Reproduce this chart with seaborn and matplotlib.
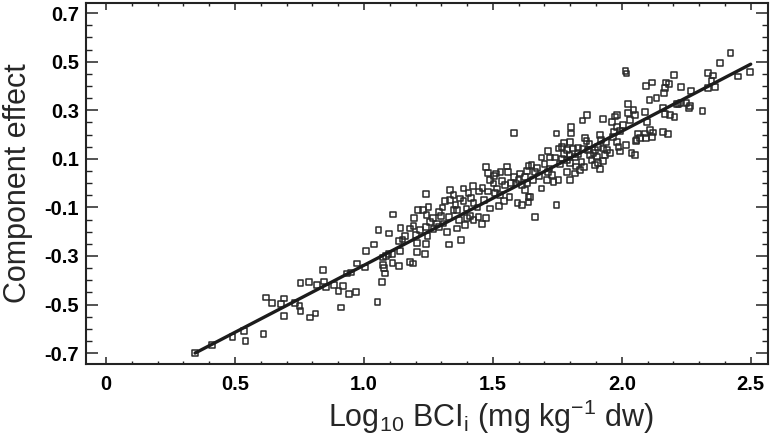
import matplotlib
matplotlib.use("Agg")
import matplotlib.pyplot as plt
import seaborn as sns
from matplotlib.ticker import MultipleLocator

# ── Data ──────────────────────────────────────────────────────────────────────
log_bci = [
    0.345, 0.412, 0.490, 0.534, 0.541, 0.610, 0.620, 0.642, 0.677, 0.690,
    0.690, 0.733, 0.750, 0.754, 0.754, 0.787, 0.790,
    0.812, 0.817, 0.840, 0.845, 0.852, 0.884, 0.901, 0.918, 0.910, 0.933,
    0.949, 0.943, 0.969, 0.974, 1.005, 1.008, 1.052, 1.069, 1.073, 1.075,
    1.078, 1.082, 1.086, 1.095, 1.111, 1.111, 1.137, 1.140, 1.179, 1.191,
    1.205, 1.237,
    1.039, 1.056, 1.098, 1.114, 1.136, 1.142, 1.158, 1.150, 1.179, 1.192,
    1.194, 1.211, 1.202, 1.205,
    1.583, 1.241, 1.331, 1.377, 1.218, 1.246, 1.241, 1.228, 1.250, 1.241,
    1.243, 1.256, 1.269, 1.282, 1.292, 1.308, 1.321, 1.298, 1.305, 1.314,
    1.334, 1.347, 1.334, 1.347, 1.331, 1.360, 1.373, 1.386, 1.386, 1.405,
    1.422, 1.425, 1.398, 1.370, 1.360, 1.392, 1.411, 1.401, 1.425, 1.444,
    1.457, 1.473, 1.447, 1.465, 1.482, 1.489, 1.473, 1.482, 1.489, 1.504,
    1.512, 1.530, 1.502, 1.517, 1.508, 1.528, 1.525, 1.554, 1.558, 1.547,
    1.564, 1.543, 1.582, 1.590, 1.599, 1.612, 1.595, 1.612, 1.625, 1.625,
    1.631, 1.638, 1.638,
    2.014, 2.018, 1.663, 1.747, 1.638, 1.644, 1.631, 1.650, 1.670, 1.663,
    1.657, 1.689, 1.709, 1.728, 1.735, 1.754, 1.715, 1.689, 1.715, 1.722,
    1.741, 1.754, 1.767, 1.747, 1.777, 1.800, 1.802, 1.802, 1.787, 1.797,
    1.812, 1.818, 1.831, 1.787, 1.767, 1.800, 1.822, 1.787, 1.800, 1.818,
    1.844, 1.853, 1.838, 1.857, 1.863, 1.848, 1.866, 1.870, 1.877, 1.883,
    1.890, 1.896, 1.909, 1.916, 1.896, 1.916, 1.918, 1.909, 1.928, 1.934,
    1.943, 1.954, 1.928, 1.928, 1.961, 1.974, 1.980, 1.965, 1.980, 1.987,
    1.993, 1.980, 1.993, 2.006, 2.025, 2.025, 2.045, 2.032, 2.051, 2.016,
    2.038, 2.051, 2.057, 2.064,
    2.422, 2.381, 2.452, 2.497, 2.335, 2.355, 2.348, 2.361, 2.335, 2.313,
    2.267, 2.229, 2.202, 2.184, 2.171, 2.167, 2.164, 2.135, 2.107, 2.094,
    2.116, 2.090, 2.161, 2.167, 2.187, 2.204, 2.213, 2.220, 2.228, 2.251,
    2.264, 2.262, 2.099, 2.090, 2.110, 2.122, 2.116, 2.094, 2.071, 2.055,
    2.161, 2.180,
    # extra points in the dense middle of the cloud
    1.270, 1.290, 1.355, 1.415, 1.440, 1.460, 1.535, 1.570, 1.605, 1.680,
    1.700, 1.720, 1.760, 1.775, 1.830, 1.850, 1.875, 1.905, 1.940, 1.970,
]
effect = [
    -0.700, -0.666, -0.634, -0.608, -0.650, -0.622, -0.471, -0.494, -0.498, -0.475,
    -0.548, -0.493, -0.507, -0.526, -0.412, -0.407, -0.553,
    -0.537, -0.419, -0.359, -0.405, -0.430, -0.419, -0.444, -0.424, -0.512, -0.372,
    -0.368, -0.457, -0.449, -0.331, -0.347, -0.279, -0.490, -0.408, -0.336, -0.306,
    -0.351, -0.372, -0.300, -0.292, -0.328, -0.292, -0.342, -0.281, -0.324, -0.331,
    -0.283, -0.292,
    -0.253, -0.194, -0.207, -0.129, -0.239, -0.184, -0.217, -0.232, -0.187, -0.176,
    -0.143, -0.111, -0.214, -0.248,
    0.208, -0.252, -0.253, -0.235, -0.194, -0.218, -0.182, -0.111, -0.097, -0.045,
    -0.132, -0.159, -0.145, -0.166, -0.182, -0.166, -0.200, -0.136, -0.100, -0.073,
    -0.029, -0.049, -0.070, -0.111, -0.139, -0.111, -0.063, -0.073, -0.022, -0.042,
    -0.012, -0.083, -0.104, -0.152, -0.187, -0.173, -0.136, -0.145, -0.152, -0.139,
    -0.169, -0.145, -0.035, -0.070, -0.035, -0.104, 0.065, 0.043, 0.013, 0.029,
    0.040, 0.046, -0.001, -0.022, -0.042, -0.049, -0.094, 0.068, 0.047, -0.008,
    -0.056, -0.073, 0.026, -0.001, 0.013, -0.008, -0.083, -0.090, -0.029, 0.026,
    0.051, 0.070, -0.056,
    0.462, 0.452, -0.139, -0.090, -0.077, -0.056, -0.001, 0.075, 0.061, 0.047,
    0.013, -0.022, 0.013, 0.033, 0.006, 0.013, 0.047, 0.106, 0.133, 0.106,
    0.106, 0.143, 0.150, 0.205, 0.166, 0.170, 0.205, 0.230, 0.137, 0.116,
    0.143, 0.109, 0.147, 0.095, 0.102, 0.082, 0.068, 0.047, 0.013, 0.040,
    0.088, 0.065, 0.054, 0.185, 0.175, 0.258, 0.281, 0.137, 0.116, 0.095,
    0.123, 0.075, 0.082, 0.057, 0.137, 0.199, 0.178, 0.150, 0.143, 0.116,
    0.137, 0.123, 0.092, 0.263, 0.253, 0.274, 0.281, 0.191, 0.170, 0.150,
    0.130, 0.232, 0.216, 0.240, 0.326, 0.288, 0.301, 0.260, 0.281, 0.157,
    0.123, 0.116, 0.178, 0.205,
    0.535, 0.494, 0.439, 0.457, 0.453, 0.443, 0.421, 0.397, 0.391, 0.297,
    0.380, 0.397, 0.446, 0.407, 0.415, 0.391, 0.370, 0.350, 0.342, 0.401,
    0.415, 0.292, 0.308, 0.284, 0.281, 0.271, 0.327, 0.325, 0.329, 0.329,
    0.319, 0.308, 0.253, 0.205, 0.219, 0.209, 0.191, 0.185, 0.185, 0.173,
    0.212, 0.202,
    -0.190, -0.120, -0.090, -0.060, -0.100, -0.020, 0.010, 0.000, 0.040, 0.030,
    0.080, 0.060, 0.080, 0.120, 0.120, 0.140, 0.160, 0.110, 0.170, 0.210,
]

# fitted line end points
fit_x = [0.345, 2.500]
fit_y = [-0.700, 0.490]

x_ticks = [0.0, 0.5, 1.0, 1.5, 2.0, 2.5]
x_tick_labels = ["0", "0.5", "1.0", "1.5", "2.0", "2.5"]
y_ticks = [-0.7, -0.5, -0.3, -0.1, 0.1, 0.3, 0.5, 0.7]
y_tick_labels = ["-0.7", "-0.5", "-0.3", "-0.1", "0.1", "0.3", "0.5", "0.7"]

# ── Style ─────────────────────────────────────────────────────────────────────
sns.set_theme(style="ticks")
plt.rcParams["font.family"] = ["Liberation Sans", "DejaVu Sans"]
plt.rcParams["mathtext.default"] = "regular"
plt.rcParams["axes.unicode_minus"] = False

INK = "#232323"

fig = plt.figure(figsize=(7.74, 4.37), dpi=100)
fig.patch.set_facecolor("white")
ax = fig.add_axes([86 / 774, 1 - 364 / 437, 682 / 774, 361 / 437])

sns.scatterplot(
    x=log_bci, y=effect, ax=ax,
    marker="s", s=17, facecolor="none", edgecolor="#2a2a2a", linewidth=1.1,
    zorder=2, legend=False,
)
sns.lineplot(x=fit_x, y=fit_y, ax=ax, color="#1c1c1c", linewidth=2.4, zorder=3)

ax.set_xlim(-0.078, 2.567)
ax.set_ylim(-0.745, 0.742)

ax.set_xticks(x_ticks)
ax.set_xticklabels(x_tick_labels, fontsize=14.5, fontweight="bold")
ax.set_yticks(y_ticks)
ax.set_yticklabels(y_tick_labels, fontsize=14.5, fontweight="bold")
ax.xaxis.set_minor_locator(MultipleLocator(0.1))
ax.yaxis.set_minor_locator(MultipleLocator(0.05))

ax.tick_params(axis="x", which="major", direction="in", length=4.8, width=1.1,
               top=True, bottom=True, pad=8, colors=INK)
ax.tick_params(axis="x", which="minor", direction="in", length=2.5, width=1.0,
               top=True, bottom=True, colors=INK)
ax.tick_params(axis="y", which="major", direction="in", length=8.5, width=1.1,
               left=True, right=True, pad=5, colors=INK)
ax.tick_params(axis="y", which="minor", direction="in", length=4.5, width=1.0,
               left=True, right=True, colors=INK)
ax.tick_params(labelcolor="black")

for side in ax.spines.values():
    side.set_visible(True)
    side.set_linewidth(1.5)
    side.set_color(INK)

ax.set_ylabel("Component effect", fontsize=22)
ax.yaxis.set_label_coords(-0.078, 0.5)
ax.set_xlabel("Log$_{10}$ BCI$_{i}$ (mg kg$^{-1}$ dw)", fontsize=22)
ax.xaxis.set_label_coords((491 - 86) / 682, -0.093)

ax.grid(False)
fig.savefig("out.png", dpi=100)
plt.close(fig)
